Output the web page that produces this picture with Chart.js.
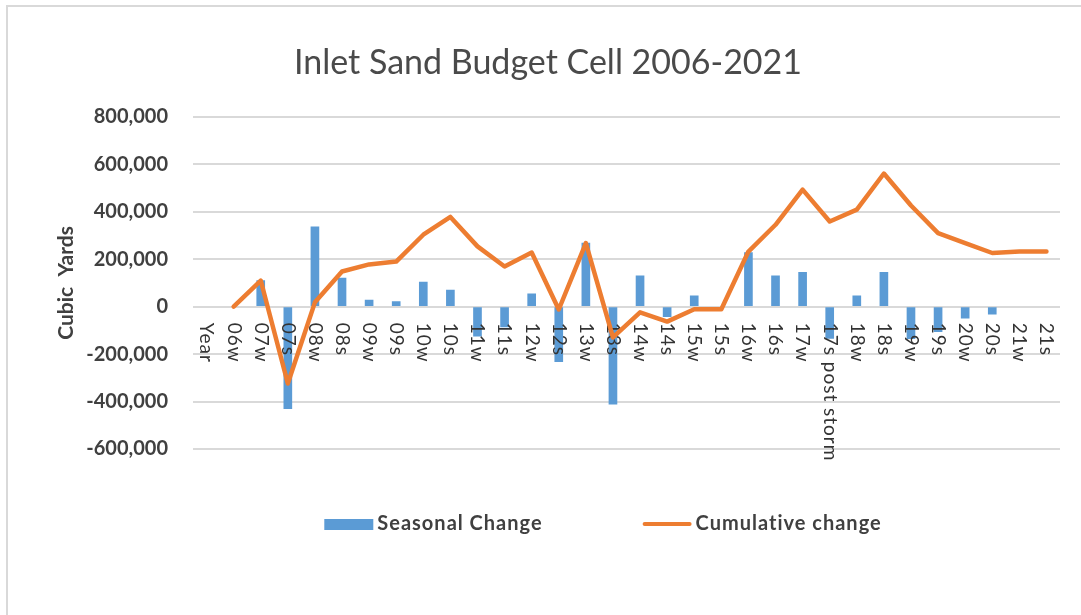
<!DOCTYPE html>
<html>
<head>
<meta charset="utf-8">
<script src="https://cdn.jsdelivr.net/npm/chart.js@4.4.1/dist/chart.umd.min.js"></script>
<style>
  body { margin: 0; background: #fff; }
  canvas { display: block; }
</style>
</head>
<body>
<canvas id="myChart" width="1081" height="615"></canvas>
<script>
// survey periods (w = winter, s = summer)
const periods = ['Year', '06w', '07w', '07s', '08w', '08s', '09w', '09s', '10w', '10s',
  '11w', '11s', '12w', '12s', '13w', '13s', '14w', '14s', '15w', '15s', '16w', '16s',
  '17w', '17s post storm', '18w', '18s', '19w', '19s', '20w', '20s', '21w', '21s'];

// change since the previous survey, cubic yards
const seasonalChange = [null, null, 110000, -430000, 336000, 120000, 28000, 21000, 103000, 70000,
  -124000, -85000, 54000, -232000, 268000, -411000, 130000, -42000, 45000, null, 228000, 130000,
  145000, -134000, 45000, 145000, -135000, -106000, -49000, -32000, null, null];

// running total from 06w
const cumulativeChange = [null, 0, 110000, -324000, 18000, 148000, 178000, 190000, 303000, 378000,
  254000, 169000, 228000, -12000, 268000, -130000, -24000, -63000, -11000, -11000, 232000, 345000,
  493000, 359000, 409000, 561000, 426000, 310000, 268000, 226000, 232000, 232000];

const yTicks = [-600000, -400000, -200000, 0, 200000, 400000, 600000, 800000];

const textColor = '#404040';
const blue = '#5B9BD5';
const orange = '#ED7D31';

// thin frame round the chart (only top and left edges fall on the canvas)
const framePlugin = {
  id: 'frame',
  beforeDraw(chart) {
    const ctx = chart.ctx;
    ctx.save();
    ctx.fillStyle = '#fff';
    ctx.fillRect(0, 0, chart.width, chart.height);
    ctx.strokeStyle = '#d9d9d9';
    ctx.lineWidth = 2;
    ctx.beginPath();
    ctx.moveTo(7, chart.height + 5);
    ctx.lineTo(7, 6);
    ctx.lineTo(chart.width + 5, 6);
    ctx.stroke();
    ctx.restore();
  }
};

// period labels hang from the zero line, turned to read downward
const periodLabels = {
  id: 'periodLabels',
  afterDatasetDraw(chart, args) {
    if (args.index !== 0) return;
    const ctx = chart.ctx;
    const x = chart.scales.x;
    const y0 = chart.scales.y.getPixelForValue(0);
    ctx.save();
    ctx.font = '19px Lato';
    ctx.letterSpacing = '1px';
    ctx.fillStyle = '#333';
    ctx.textAlign = 'left';
    ctx.textBaseline = 'middle';
    chart.data.labels.forEach((lab, i) => {
      ctx.save();
      ctx.translate(x.getPixelForValue(i), y0 + 16);
      ctx.rotate(Math.PI / 2);
      ctx.fillText(lab, 0, 0);
      ctx.restore();
    });
    ctx.restore();
  }
};

// legend under the plot
const bottomLegend = {
  id: 'bottomLegend',
  afterDraw(chart) {
    const ctx = chart.ctx;
    const swatch = 49, gap = 4, spacing = 100, cy = 524, cx = 603;
    ctx.save();
    ctx.font = 'bold 20px Lato';
    ctx.letterSpacing = '1px';
    ctx.textBaseline = 'middle';
    const items = chart.data.datasets.map(ds => ({
      ds, w: swatch + gap + ctx.measureText(ds.label).width
    }));
    const total = items.reduce((s, it) => s + it.w, 0) + spacing * (items.length - 1);
    let x = cx - total / 2;
    items.forEach(({ ds, w }) => {
      if (ds.type === 'line') {
        ctx.strokeStyle = ds.borderColor;
        ctx.lineWidth = 4;
        ctx.lineCap = 'round';
        ctx.beginPath();
        ctx.moveTo(x + 2, cy);
        ctx.lineTo(x + swatch - 2, cy);
        ctx.stroke();
      } else {
        ctx.fillStyle = ds.backgroundColor;
        ctx.fillRect(x, cy - 5, swatch, 11);
      }
      ctx.fillStyle = textColor;
      ctx.fillText(ds.label, x + swatch + gap, cy);
      x += w + spacing;
    });
    ctx.restore();
  }
};

function draw() {
  const ctx = document.getElementById('myChart').getContext('2d');
  new Chart(ctx, {
    type: 'bar',
    data: {
      labels: periods,
      datasets: [{
        label: 'Seasonal Change',
        data: seasonalChange,
        backgroundColor: blue,
        barThickness: 8,
        order: 1
      }, {
        type: 'line',
        label: 'Cumulative change',
        data: cumulativeChange,
        borderColor: orange,
        backgroundColor: orange,
        borderWidth: 4.5,
        pointRadius: 0,
        tension: 0,
        borderJoinStyle: 'round',
        borderCapStyle: 'round',
        order: 0
      }]
    },
    options: {
      responsive: false,
      animation: false,
      layout: { padding: { left: 36, right: 21, top: 0, bottom: 0 } },
      plugins: {
        legend: { display: false },
        tooltip: { enabled: false },
        title: {
          display: true,
          text: 'Inlet Sand Budget Cell 2006-2021',
          color: '#4a4a4a',
          font: { family: 'Lato', size: 34, weight: 'normal', lineHeight: 1.2 },
          padding: { top: 43, bottom: 33 }
        }
      },
      scales: {
        x: {
          grid: { display: false },
          border: { display: false },
          ticks: { display: false },
          afterFit(scale) { scale.height = 166; }
        },
        y: {
          min: -600000,
          max: 800000,
          afterBuildTicks(scale) { scale.ticks = yTicks.map(v => ({ value: v })); },
          afterFit(scale) { scale.width = 157; },
          grid: { color: '#d9d9d9', lineWidth: 2, drawTicks: false },
          border: { display: false },
          ticks: {
            padding: 25,
            color: textColor,
            font: { family: 'Lato', size: 20, weight: 'bold' },
            callback: v => v.toLocaleString('en-US')
          },
          title: {
            display: true,
            text: 'Cubic  Yards',
            color: textColor,
            font: { family: 'Lato', size: 21, weight: 'bold', lineHeight: 1.2 },
            padding: { top: 18, bottom: 0 }
          }
        }
      }
    },
    plugins: [framePlugin, periodLabels, bottomLegend]
  });
}

Promise.all([
  document.fonts.load('18px Lato'),
  document.fonts.load('bold 18px Lato')
]).then(draw, draw);
</script>
</body>
</html>
